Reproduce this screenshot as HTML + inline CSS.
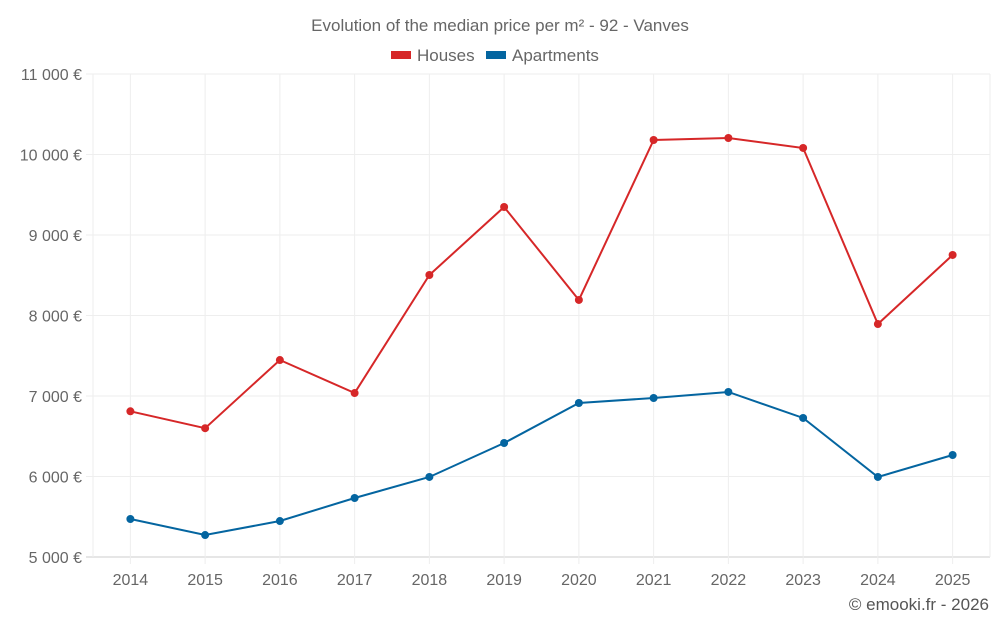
<!DOCTYPE html>
<html><head><meta charset="utf-8"><style>
html,body{margin:0;padding:0;background:#fff;}
svg text{font-family:"Liberation Sans",sans-serif;}
</style></head><body>
<svg id="chart" width="1000" height="625" xmlns="http://www.w3.org/2000/svg">
<text x="500" y="31" text-anchor="middle" font-size="17" fill="#666">Evolution of the median price per m² - 92 - Vanves</text>
<g>
<g><rect x="391" y="51" width="20" height="8" fill="#d62728"/><text x="417" y="61" font-size="17" fill="#666">Houses</text></g>
<g><rect x="486" y="51" width="20" height="8" fill="#0465a0"/><text x="512" y="61" font-size="17" fill="#666">Apartments</text></g>
</g>
<g id="grid"></g>
<g id="axes"></g>
<g id="series"></g>
<text x="989" y="610" text-anchor="end" font-size="17" fill="#555">© emooki.fr - 2026</text>
</svg>
<script>
const years = ["2014","2015","2016","2017","2018","2019","2020","2021","2022","2023","2024","2025"];
const houses = [6810,6600,7447,7037,8503,9348,8193,10180,10205,10081,7894,8752];
const apartments = [5472,5273,5447,5733,5994,6416,6913,6975,7050,6727,5994,6267];
const yTicks = [5000,6000,7000,8000,9000,10000,11000];
const yTickLabels = ["5 000 €","6 000 €","7 000 €","8 000 €","9 000 €","10 000 €","11 000 €"];
const NS="http://www.w3.org/2000/svg";
const L=93,R=990,T=74,B=557,yMin=5000,yMax=11000;
const band=(R-L)/years.length;
const x=i=>L+band*(i+0.5);
const y=v=>B-(v-yMin)/(yMax-yMin)*(B-T);
function mk(tag,attrs,parent){const e=document.createElementNS(NS,tag);for(const k in attrs)e.setAttribute(k,attrs[k]);parent.appendChild(e);return e;}
const grid=document.getElementById('grid'),axes=document.getElementById('axes'),series=document.getElementById('series');
yTicks.forEach((t,i)=>{
  const ln=mk('line',{x1:L-7,x2:R,y1:y(t),y2:y(t),stroke:i==0?'#ccc':'#eee','stroke-width':1},grid);
  
  
  const tx=mk('text',{x:L-11,y:y(t)+6,'text-anchor':'end','font-size':16,fill:'#666'},axes);
  tx.textContent=yTickLabels[i];
  
  
});
[L,R].forEach(px=>{
  const ln=mk('line',{x1:px,x2:px,y1:T,y2:B,stroke:'#eee','stroke-width':1},grid);
  
  
});
years.forEach((yr,i)=>{
  const ln=mk('line',{x1:x(i),x2:x(i),y1:T,y2:B+7,stroke:'#eee','stroke-width':1},grid);
  
  
  const tx=mk('text',{x:x(i),y:585,'text-anchor':'middle','font-size':16,fill:'#666'},axes);
  tx.textContent=yr;
  
  
});
function draw(vals,color,name){
  const p=mk('polyline',{points:vals.map((v,i)=>x(i)+','+y(v)).join(' '),fill:'none',stroke:color,'stroke-width':2},series);
  
  
  vals.forEach((v,i)=>{
    const c=mk('circle',{cx:x(i),cy:y(v),r:4,fill:color},series);
    
    
  });
}
draw(houses,'#d62728','houses');
draw(apartments,'#0465a0','apartments');
</script>
</body></html>
